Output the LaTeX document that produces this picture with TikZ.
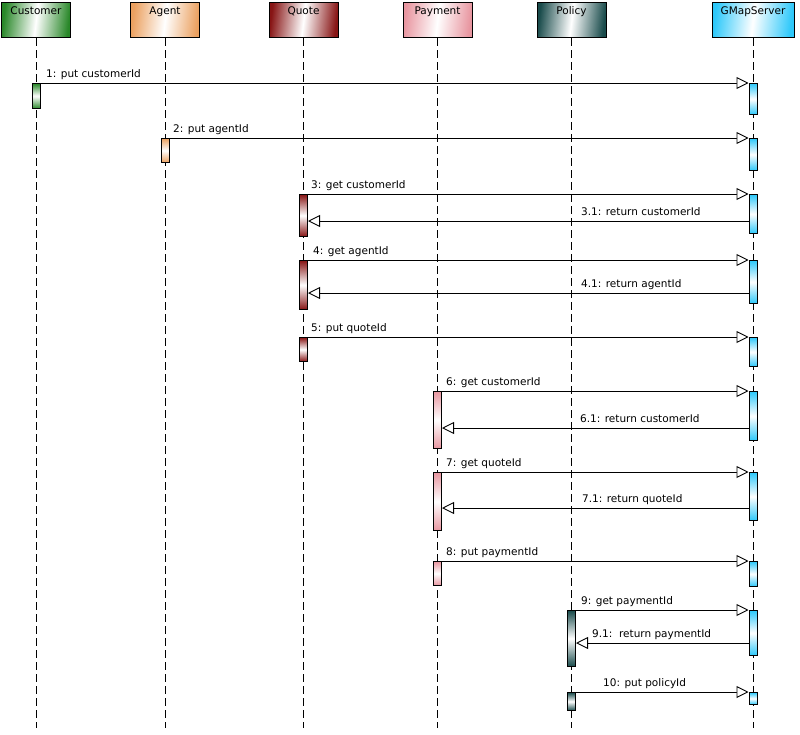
\documentclass[tikz,border=0pt]{standalone}
\usepackage{fontspec}
\setmainfont{DejaVu Sans}
\usetikzlibrary{arrows.meta}
\definecolor{cCust}{RGB}{40,135,40}
\definecolor{cAgent}{RGB}{235,160,95}
\definecolor{cQuote}{RGB}{135,20,20}
\definecolor{cPay}{RGB}{232,150,160}
\definecolor{cPol}{RGB}{25,75,75}
\definecolor{cGmap}{RGB}{45,200,250}
\begin{document}
\begin{tikzpicture}[x=1pt,y=-1pt,
  font=\fontsize{10.5}{12}\selectfont,
  header/.style={draw=black, line width=1pt, minimum width=69pt, inner xsep=0pt, inner ysep=3pt,
    text height=9pt, text depth=20pt, anchor=north,
    left color=#1, right color=#1, middle color=white, shading angle=83},
  bar/.style={draw=black, line width=1pt, minimum width=8pt, inner sep=0pt, anchor=north,
    top color=#1, bottom color=#1, middle color=white},
  life/.style={draw=black, line width=0.9pt, dash pattern=on 8pt off 4pt},
  msg/.style={draw=black, line width=0.9pt, -{Triangle[length=12pt,width=12pt,fill=white,line width=0.9pt]}},
  lbl/.style={inner sep=0pt, anchor=base west}]
\useasboundingbox (0,0) rectangle (800,734);
\fill[white] (0,0) rectangle (800,734);
% headers
\node[header=cCust] (cust) at (36,2) {Customer};
\node[header=cAgent] (agent) at (165,2) {Agent};
\node[header=cQuote] (quote) at (303.5,2) {Quote};
\node[header=cPay] (pay) at (437.5,2) {Payment};
\node[header=cPol] (pol) at (571.5,2) {Policy};
\node[header=cGmap, minimum width=82pt] (gmap) at (753,2) {GMapServer};
% lifeline ends
\coordinate (custE) at (36,728);
\coordinate (agentE) at (165,728);
\coordinate (quoteE) at (303.5,728);
\coordinate (payE) at (437.5,728);
\coordinate (polE) at (571.5,728);
\coordinate (gmapE) at (753,728);
\draw[life] (cust.south) -- (custE);
\draw[life] (agent.south) -- (agentE);
\draw[life] (quote.south) -- (quoteE);
\draw[life] (pay.south) -- (payE);
\draw[life] (pol.south) -- (polE);
\draw[life] (gmap.south) -- (gmapE);
% activation bars
\node[bar=cCust, minimum height=25pt] (c1) at (36,83) {};
\node[bar=cGmap, minimum height=31pt] (g1) at (753,83) {};
\node[bar=cAgent, minimum height=24pt] (a2) at (165,138) {};
\node[bar=cGmap, minimum height=32pt] (g2) at (753,138) {};
\node[bar=cQuote, minimum height=42pt] (q3) at (303.5,194) {};
\node[bar=cGmap, minimum height=39pt] (g3) at (753,194) {};
\node[bar=cQuote, minimum height=49pt] (q4) at (303.5,260) {};
\node[bar=cGmap, minimum height=43pt] (g4) at (753,260) {};
\node[bar=cQuote, minimum height=24pt] (q5) at (303.5,337) {};
\node[bar=cGmap, minimum height=29pt] (g5) at (753,337) {};
\node[bar=cPay, minimum height=57pt] (p6) at (437.5,391) {};
\node[bar=cGmap, minimum height=49pt] (g6) at (753,391) {};
\node[bar=cPay, minimum height=58pt] (p7) at (437.5,472) {};
\node[bar=cGmap, minimum height=48pt] (g7) at (753,472) {};
\node[bar=cPay, minimum height=24pt] (p8) at (437.5,561) {};
\node[bar=cGmap, minimum height=25pt] (g8) at (753,561) {};
\node[bar=cPol, minimum height=56pt] (o9) at (571.5,610) {};
\node[bar=cGmap, minimum height=45pt] (g9) at (753,610) {};
\node[bar=cPol, minimum height=18pt] (o10) at (571.5,692) {};
\node[bar=cGmap, minimum height=12pt] (g10) at (753,692) {};
% messages
\draw[msg] (c1.north east) -- (g1.north west);
\node[lbl] (l1) at (46,77) {1: put customerId};
\draw[msg] (a2.north east) -- (g2.north west);
\node[lbl] (l2) at (173,132) {2: put agentId};
\draw[msg] (q3.north east) -- (g3.north west);
\node[lbl] (l3) at (311,188) {3: get customerId};
\draw[msg] (g3.west |- 0,221) -- (q3.east |- 0,221);
\node[lbl] (l31) at (581,215) {3.1: return customerId};
\draw[msg] (q4.north east) -- (g4.north west);
\node[lbl] (l4) at (313,254) {4: get agentId};
\draw[msg] (g4.west |- 0,293) -- (q4.east |- 0,293);
\node[lbl] (l41) at (581,287) {4.1: return agentId};
\draw[msg] (q5.north east) -- (g5.north west);
\node[lbl] (l5) at (311,331) {5: put quoteId};
\draw[msg] (p6.north east) -- (g6.north west);
\node[lbl] (l6) at (446,385) {6: get customerId};
\draw[msg] (g6.west |- 0,428) -- (p6.east |- 0,428);
\node[lbl] (l61) at (580,422) {6.1: return customerId};
\draw[msg] (p7.north east) -- (g7.north west);
\node[lbl] (l7) at (446,466) {7: get quoteId};
\draw[msg] (g7.west |- 0,508) -- (p7.east |- 0,508);
\node[lbl] (l71) at (582,502) {7.1: return quoteId};
\draw[msg] (p8.north east) -- (g8.north west);
\node[lbl] (l8) at (446,555) {8: put paymentId};
\draw[msg] (o9.north east) -- (g9.north west);
\node[lbl] (l9) at (581,604) {9: get paymentId};
\draw[msg] (g9.west |- 0,643) -- (o9.east |- 0,643);
\node[lbl] (l91) at (592,637) {9.1:\ \ return paymentId};
\draw[msg] (o10.north east) -- (g10.north west);
\node[lbl] (l10) at (603,686) {10: put policyId};
\end{tikzpicture}
\end{document}
